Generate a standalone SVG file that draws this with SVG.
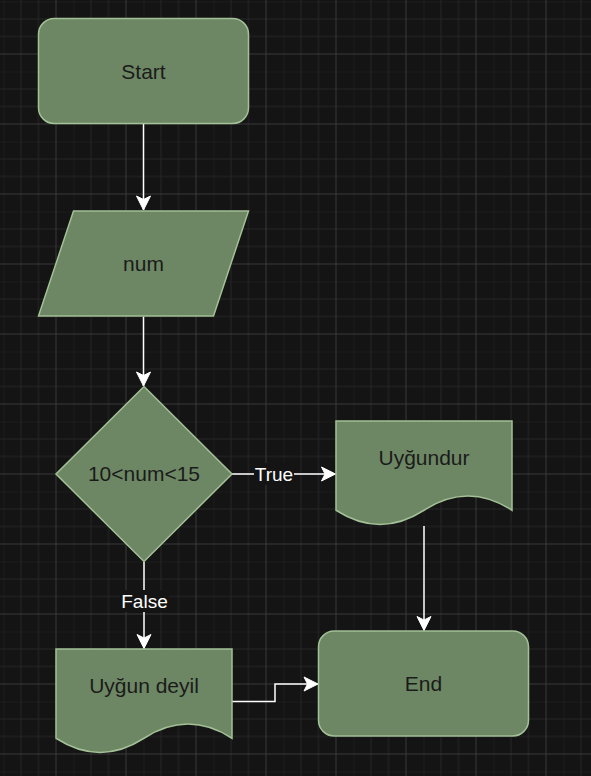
<svg xmlns="http://www.w3.org/2000/svg" width="591" height="776" viewBox="0 0 591 776">
  <defs>
    <pattern id="grid" patternUnits="userSpaceOnUse" x="3.5" y="1.5" width="70" height="70">
      <path d="M0,0 V70 M17.5,0 V70 M35,0 V70 M0,0 H70 M0,17.5 H70 M0,35 H70" stroke="#262626" stroke-width="1" fill="none"/>
      <path d="M52.5,0 V70 M0,52.5 H70" stroke="#393939" stroke-width="1" fill="none"/>
    </pattern>
    <marker id="arrow" markerUnits="userSpaceOnUse" viewBox="-15 -8 16 16" refX="0" refY="0" markerWidth="16" markerHeight="16" orient="auto">
      <path d="M0,0 L-14,-7 L-10.5,0 L-14,7 Z" fill="#ffffff" stroke="#ffffff" stroke-width="1"/>
    </marker>
  </defs>
  <style>
    .node { fill: #6d8764; stroke: #a3c096; stroke-width: 1.5; }
    .txt { font-family: "Liberation Sans", Arial, sans-serif; font-size: 21px; fill: #1b1b1b; text-anchor: middle; }
    .edge { fill: none; stroke: #ffffff; stroke-width: 1.5; }
    .lbl { font-family: "Liberation Sans", Arial, sans-serif; font-size: 19px; fill: #ffffff; text-anchor: middle; }
    .lblbg { fill: #141414; }
  </style>
  <rect x="0" y="0" width="591" height="776" fill="#141414"/>
  <rect x="0" y="0" width="591" height="776" fill="url(#grid)"/>

  <g id="connectors">
    <path class="edge" d="M143.5,124 V210" marker-end="url(#arrow)"/>
    <path class="edge" d="M143.5,316.5 V386" marker-end="url(#arrow)"/>
    <path class="edge" d="M232,474 H335.5" marker-end="url(#arrow)"/>
    <path class="edge" d="M144,561.5 V648.5" marker-end="url(#arrow)"/>
    <path class="edge" d="M424,526 V630.5" marker-end="url(#arrow)"/>
    <path class="edge" d="M232,701.5 H275 V684 H318" marker-end="url(#arrow)"/>
    <g id="label-true">
      <rect class="lblbg" x="254" y="463" width="40" height="22"/>
      <text class="lbl" x="274" y="481">True</text>
    </g>
    <g id="label-false">
      <rect class="lblbg" x="120" y="590" width="49" height="22"/>
      <text class="lbl" x="144.5" y="607.5">False</text>
    </g>
  </g>

  <g id="start">
    <rect class="node" x="38.5" y="18.5" width="210" height="105" rx="15.75" ry="15.75"/>
    <text class="txt" x="143.5" y="79">Start</text>
  </g>
  <g id="input-num">
    <path class="node" d="M73.5,211 H248.5 L213.5,316 H38.5 Z"/>
    <text class="txt" x="143.5" y="271">num</text>
  </g>
  <g id="decision">
    <path class="node" d="M144,386.5 L232,474 L144,561.5 L56,474 Z"/>
    <text class="txt" x="144" y="481">10&lt;num&lt;15</text>
  </g>
  <g id="uygundur">
    <path class="node" d="M336,421 H512 V510.25 Q468,481.9 424,510.25 Q380,538.6 336,510.25 Z"/>
    <text class="txt" x="424" y="465">Uyğundur</text>
  </g>
  <g id="uygun-deyil">
    <path class="node" d="M56,649 H232 V738.25 Q188,709.9 144,738.25 Q100,766.6 56,738.25 Z"/>
    <text class="txt" x="144" y="693">Uyğun deyil</text>
  </g>
  <g id="end">
    <rect class="node" x="318.5" y="631" width="210" height="105" rx="15.75" ry="15.75"/>
    <text class="txt" x="423.5" y="691">End</text>
  </g>
</svg>
